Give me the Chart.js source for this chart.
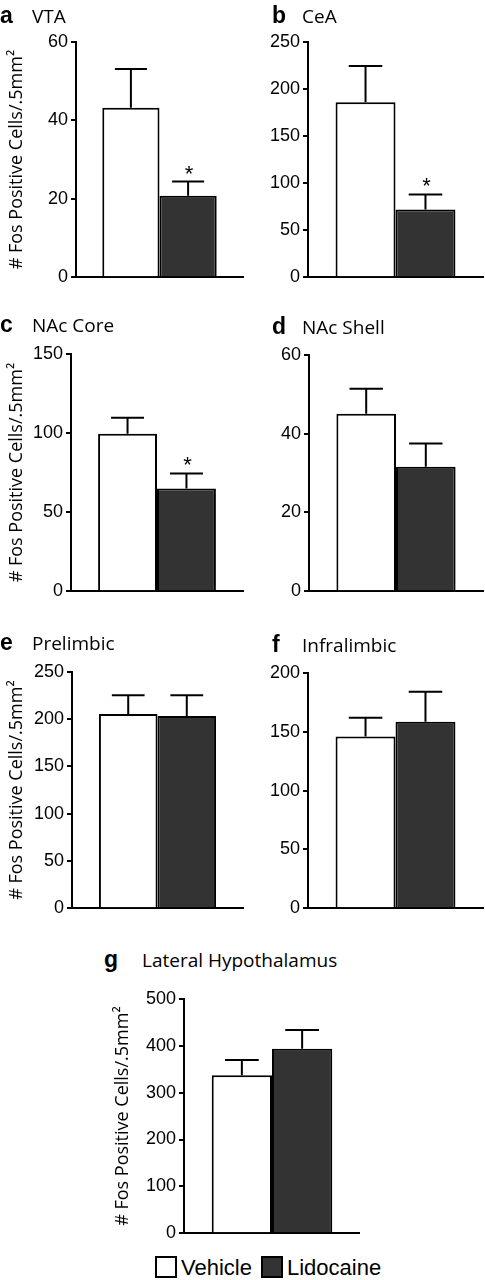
<!DOCTYPE html>
<html>
<head>
<meta charset="utf-8">
<script src="https://cdn.jsdelivr.net/npm/chart.js@4"></script>
<style>
  body { margin: 0; background: #fff; }
  #page { position: relative; width: 485px; height: 1280px; overflow: hidden; }
  .panel { position: absolute; }
  .ttl { position: absolute; white-space: nowrap; font-family: "Open Sans", sans-serif; font-size: 19px; color: #000; line-height: 1; }
  .ttl b { font-family: "Liberation Sans", Arial, sans-serif; font-size: 23px; font-weight: bold; display: inline-block; }
  #legend { position: absolute; left: 155px; top: 1256px; font-family: "Liberation Sans", Arial, sans-serif; font-size: 22px; white-space: nowrap; line-height: 1; }
  #legend span.sw { display: inline-block; width: 18px; height: 18px; border: 2px solid #000; vertical-align: -3px; margin-right: 4px; }
  #legend span.it { margin-right: 9px; }
</style>
</head>
<body>
<div id="page"></div>
<script>
// data
const regions = ["VTA", "CeA", "NAc Core", "NAc Shell", "Prelimbic", "Infralimbic", "Lateral Hypothalamus"];
const panelLetters = ["a", "b", "c", "d", "e", "f", "g"];
const groups = ["Vehicle", "Lidocaine"];
const vehicleMeans = [43.2, 186, 99.5, 45.1, 205.5, 146, 337];
const vehicleSem = [9.9, 38.5, 10.2, 6.3, 20, 16, 33];
const lidocaineMeans = [20.8, 72, 65, 31.6, 203.5, 158.5, 394];
const lidocaineSem = [3.6, 16, 9.5, 5.9, 22, 25.5, 40];
const significant = [true, true, true, false, false, false, false];
const yMax = [60, 250, 150, 60, 250, 200, 500];
const yStep = [20, 50, 50, 20, 50, 50, 100];
const yTitle = "# Fos Positive Cells/.5mm\u00B2";

// where each panel sits on the page
const layout = [
  { left: 0,   top: 0,   w: 245, h: 291, yw: 76, padTop: 42, padRight: 2, xh: 13, showY: true,  tx: 0,   ty: 4 },
  { left: 245, top: 0,   w: 240, h: 291, yw: 63, padTop: 42, padRight: 2, xh: 13, showY: false, tx: 272, ty: 4 },
  { left: 0,   top: 300, w: 245, h: 305, yw: 71, padTop: 54, padRight: 2, xh: 13, showY: true,  tx: 0,   ty: 313 },
  { left: 245, top: 300, w: 240, h: 305, yw: 64, padTop: 55, padRight: 2, xh: 13, showY: false, tx: 272, ty: 315 },
  { left: 0,   top: 615, w: 245, h: 307, yw: 72, padTop: 57, padRight: 2, xh: 13, showY: true,  tx: 0,   ty: 631 },
  { left: 245, top: 615, w: 240, h: 307, yw: 63, padTop: 58, padRight: 2, xh: 12, showY: false, tx: 272, ty: 633 },
  { left: 106, top: 985, w: 254, h: 262, yw: 78, padTop: 14, padRight: 0, xh: 13, showY: true,  tx: 104, ty: 948 },
];

const barColors = ["#ffffff", "#333333"];

// upper error bars + asterisks
const errorBars = {
  id: "errorBars",
  afterDatasetsDraw(chart, args, opts) {
    const ctx = chart.ctx;
    const y = chart.scales.y;
    ctx.save();
    ctx.strokeStyle = "#000";
    ctx.lineWidth = 2;
    chart.data.datasets.forEach((ds, i) => {
      const bar = chart.getDatasetMeta(i).data[0];
      const top = y.getPixelForValue(ds.data[0] + opts.sem[i]);
      const cap = bar.width * 0.56;
      ctx.beginPath();
      ctx.moveTo(bar.x, bar.y);
      ctx.lineTo(bar.x, top);
      ctx.moveTo(bar.x - cap / 2, top);
      ctx.lineTo(bar.x + cap / 2, top);
      ctx.stroke();
      if (i === 1 && opts.star) {
        ctx.fillStyle = "#000";
        ctx.font = "22px 'Liberation Sans', Arial";
        ctx.textAlign = "center";
        ctx.textBaseline = "alphabetic";
        ctx.fillText("*", bar.x + 1, top - 1);
      }
    });
    ctx.restore();
  }
};

const page = document.getElementById("page");
const charts = [];

regions.forEach((name, k) => {
  const L = layout[k];
  const wrap = document.createElement("div");
  wrap.className = "panel";
  wrap.style.left = L.left + "px";
  wrap.style.top = L.top + "px";
  wrap.style.width = L.w + "px";
  wrap.style.height = L.h + "px";
  const cv = document.createElement("canvas");
  wrap.appendChild(cv);
  page.appendChild(wrap);

  const t = document.createElement("div");
  t.className = "ttl";
  t.style.left = L.tx + "px";
  t.style.top = L.ty + "px";
  t.innerHTML = "<b style='width:" + (k === 6 ? 38 : k % 2 ? 30 : 32) + "px'>" + panelLetters[k] + "</b>" + name;
  page.appendChild(t);

  charts.push(new Chart(cv, {
    type: "bar",
    data: {
      labels: [name],
      datasets: [
        { label: groups[0], data: [vehicleMeans[k]], backgroundColor: barColors[0], borderColor: "#000", borderWidth: 2 },
        { label: groups[1], data: [lidocaineMeans[k]], backgroundColor: barColors[1], borderColor: "#000", borderWidth: 2 },
      ],
    },
    options: {
      responsive: true,
      maintainAspectRatio: false,
      animation: false,
      datasets: { bar: { categoryPercentage: 0.685, barPercentage: 1 } },
      layout: { padding: { top: L.padTop, right: L.padRight, left: 0, bottom: 0 } },
      plugins: {
        legend: { display: false },
        tooltip: { enabled: false },
        errorBars: { sem: [vehicleSem[k], lidocaineSem[k]], star: significant[k] },
      },
      scales: {
        x: {
          grid: { display: false },
          border: { display: true, color: "#000", width: 2 },
          ticks: { display: false },
          afterFit: (s) => { s.height = L.xh; },
        },
        y: {
          min: 0,
          max: yMax[k],
          ticks: { stepSize: yStep[k], color: "#000", padding: 3, font: { family: "Liberation Sans", size: 18 } },
          grid: { display: true, drawOnChartArea: false, drawTicks: true, tickLength: 5, color: "#000", lineWidth: 2 },
          border: { display: true, color: "#000", width: 2 },
          title: {
            display: L.showY,
            text: yTitle,
            color: "#000",
            font: { family: "Open Sans", size: 18 },
            padding: { top: 6, bottom: 0 },
          },
          afterFit: (s) => { s.width = L.yw; },
        },
      },
    },
    plugins: [errorBars],
  }));
});

// legend from the last chart's datasets
const lg = document.createElement("div");
lg.id = "legend";
charts[6].data.datasets.forEach((ds) => {
  const sw = document.createElement("span");
  sw.className = "sw";
  sw.style.background = ds.backgroundColor;
  const it = document.createElement("span");
  it.className = "it";
  it.textContent = ds.label;
  lg.appendChild(sw);
  lg.appendChild(it);
});
page.appendChild(lg);
</script>
</body>
</html>
